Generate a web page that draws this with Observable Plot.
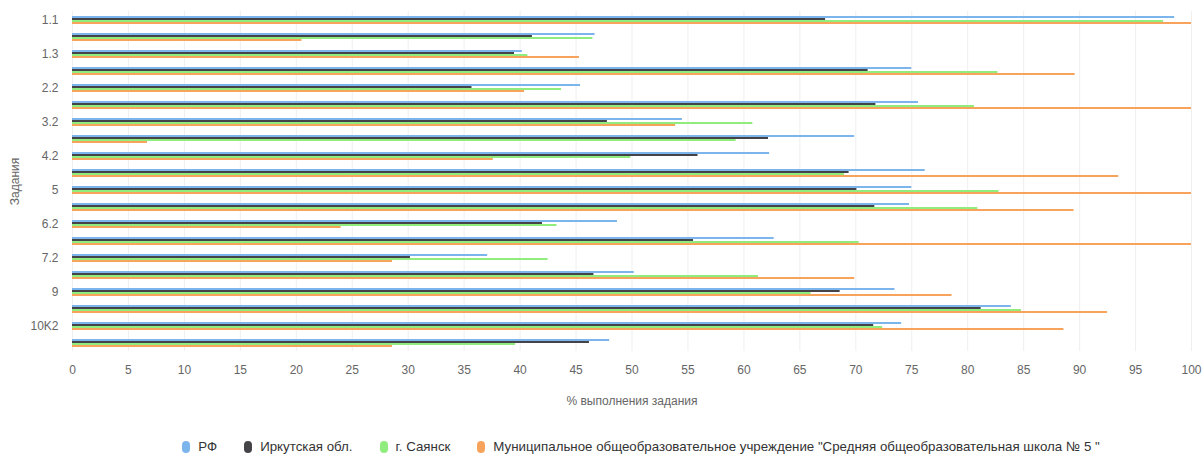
<!DOCTYPE html>
<html>
<head>
<meta charset="utf-8">
<script src="https://cdn.jsdelivr.net/npm/d3@7"></script>
<script src="https://cdn.jsdelivr.net/npm/@observablehq/plot@0.6"></script>
<style>
  body { margin: 0; background: #fff; font-family: "Liberation Sans", Arial, sans-serif; }
  #chart { width: 1204px; }
  .legend { width: 1204px; box-sizing: border-box; display: flex; justify-content: center; align-items: center; gap: 27px; font-size: 13.3px; color: #333; padding-left: 78px; margin-top: 27px; }
  .legend span.item { display: inline-flex; align-items: center; gap: 8px; white-space: nowrap; }
  .legend i { display: inline-block; width: 8px; height: 12px; border-radius: 4px; }
</style>
</head>
<body>
<div id="chart"></div>
<script>
const tasks = ["1.1","1.2","1.3","2.1","2.2","3.1","3.2","4.1","4.2","4.3","5","6.1","6.2","7.1","7.2","8","9","10K1","10K2","10K3"];
const shownTicks = ["1.1","1.3","2.2","3.2","4.2","5","6.2","7.2","9","10K2"];
const seriesNames = ["РФ", "Иркутская обл.", "г. Саянск", "Муниципальное общеобразовательное учреждение \"Средняя общеобразовательная школа № 5 \""];
const seriesColors = ["#7cb5ec", "#434348", "#90ed7d", "#f7a35c"];
const rf  = [98.5, 46.7, 40.2, 75.0, 45.4, 75.6, 54.5, 69.9, 62.3, 76.2, 75.0, 74.8, 48.7, 62.7, 37.1, 50.2, 73.5, 83.9, 74.1, 48.0];
const irk = [67.3, 41.1, 39.5, 71.1, 35.7, 71.8, 47.8, 62.2, 55.9, 69.4, 70.1, 71.7, 42.0, 55.5, 30.2, 46.6, 68.6, 81.2, 71.6, 46.2];
const say = [97.5, 46.5, 40.7, 82.7, 43.7, 80.6, 60.8, 59.3, 49.9, 69.0, 82.8, 80.9, 43.3, 70.3, 42.5, 61.3, 66.0, 84.8, 72.4, 39.6];
const sch = [100, 20.5, 45.3, 89.6, 40.4, 100, 53.9, 6.7, 37.6, 93.5, 100, 89.5, 24.0, 100, 28.6, 69.9, 78.6, 92.5, 88.6, 28.6];
const xTicks = d3.range(0, 101, 5);

const valueSets = [rf, irk, say, sch];
const data = [];
tasks.forEach((t, i) => {
  seriesNames.forEach((s, j) => data.push({task: t, series: s, value: valueSets[j][i]}));
});

const chart = Plot.plot({
  width: 1204,
  height: 412,
  marginTop: 10,
  marginLeft: 72,
  marginRight: 13,
  marginBottom: 61,
  style: {fontFamily: "Liberation Sans, Arial, sans-serif", fontSize: "12px", color: "#666"},
  x: {domain: [0, 100], ticks: xTicks, grid: true, tickSize: 0, tickPadding: 14,
      label: "% выполнения задания", labelArrow: "none", labelAnchor: "center", labelOffset: 53},
  fy: {domain: tasks, padding: 0, tickSize: 0, tickPadding: 14,
       tickFormat: d => shownTicks.includes(d) ? d : "",
       label: "Задания", labelAnchor: "center", labelOffset: 62},
  y: {domain: seriesNames, axis: null, paddingInner: 0.1, paddingOuter: 1},
  color: {domain: seriesNames, range: seriesColors},
  marks: [
    Plot.barX(data, {fy: "task", y: "series", x: "value", fill: "series"})
  ]
});
document.getElementById("chart").appendChild(chart);

const legend = document.createElement("div");
legend.className = "legend";
seriesNames.forEach((s, j) => {
  const it = document.createElement("span");
  it.className = "item";
  const sw = document.createElement("i");
  sw.style.background = seriesColors[j];
  it.appendChild(sw);
  it.appendChild(document.createTextNode(s));
  legend.appendChild(it);
});
document.body.appendChild(legend);
</script>
</body>
</html>
